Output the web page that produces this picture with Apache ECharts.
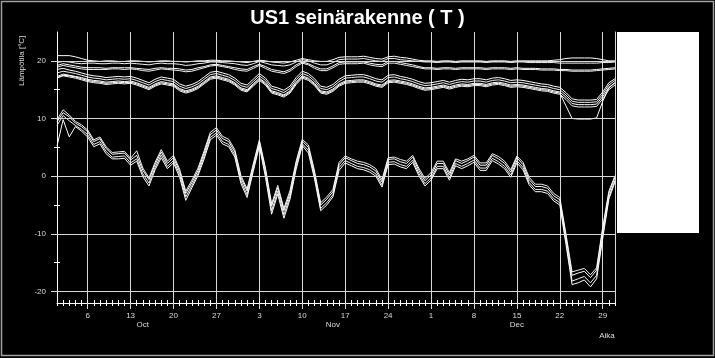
<!DOCTYPE html>
<html><head><meta charset="utf-8">
<script src="https://cdn.jsdelivr.net/npm/echarts@6/dist/echarts.min.js"></script>
<style>html,body{margin:0;padding:0;background:#000}#c{width:715px;height:358px}</style>
</head><body><div id="c"></div>
<script>
// ---- data ----
const monthLengths = [['Oct',31],['Nov',30],['Dec',31]];
const dates = [];
monthLengths.forEach(([m,n]) => { for (let d = 1; d <= n; d++) dates.push(m + ' ' + d); });
const weekTickDates = ['Oct 6','Oct 13','Oct 20','Oct 27','Nov 3','Nov 10','Nov 17','Nov 24','Dec 1','Dec 8','Dec 15','Dec 22','Dec 29'];
const monthLabelDates = ['Oct 15','Nov 15','Dec 15'];
const yMajor = [-20,-10,0,10,20];
const yMinor = [-15,-5,5,15];
const title = 'US1 seinärakenne ( T )';
const yName = 'Lämpötila [°C]';
const xName = 'Aika';

const T1 = [20.9,20.9,20.9,20.7,20.4,20.1,20.0,19.9,20.0,20.0,
 19.9,19.9,20.0,20.0,19.9,19.8,19.9,20.0,20.0,19.9,
 19.9,19.8,19.9,20.0,20.0,20.1,20.1,20.0,20.0,19.9,
 19.8,19.7,19.9,20.1,20.0,19.8,19.7,19.6,19.8,20.1,
 20.4,20.2,20.0,19.9,19.9,20.2,20.6,20.7,20.7,20.7,
 20.8,20.6,20.4,20.3,20.7,20.8,20.6,20.5,20.3,20.1,
 20.0,20.0,19.9,20.0,20.0,19.9,20.0,20.0,20.0,20.0,
 19.9,20.0,20.0,20.0,19.9,20.0,20.0,20.0,20.0,20.0,
 20.0,20.1,20.2,20.4,20.5,20.5,20.5,20.5,20.4,20.2,
 20.0,20.0];
const T2 = [19.7,19.9,19.8,19.6,19.5,19.6,19.6,19.5,19.5,19.6,
 19.6,19.5,19.6,19.5,19.4,19.3,19.5,19.6,19.5,19.5,
 19.4,19.2,19.3,19.5,19.6,19.8,19.8,19.7,19.6,19.5,
 19.3,19.2,19.5,19.9,19.6,19.3,19.2,19.1,19.3,19.8,
 20.2,20.0,19.6,19.3,19.3,19.7,20.2,20.3,20.3,20.3,
 20.4,20.2,20.0,19.9,20.4,20.4,20.2,20.1,20.0,19.9,
 19.8,19.8,19.7,19.8,19.8,19.7,19.8,19.8,19.8,19.8,
 19.7,19.8,19.8,19.8,19.7,19.8,19.8,19.7,19.7,19.7,
 19.7,19.7,19.6,19.6,19.6,19.6,19.6,19.6,19.6,19.7,
 19.7,19.8];
const T3 = [19.2,19.5,19.3,19.1,18.9,18.8,18.8,18.8,18.7,18.8,
 18.8,18.8,18.8,18.7,18.6,18.5,18.7,18.8,18.7,18.7,
 18.6,18.4,18.5,18.8,19.0,19.3,19.4,19.2,19.0,18.8,
 18.6,18.5,19.0,19.4,19.0,18.5,18.3,18.1,18.5,19.3,
 19.8,19.5,19.0,18.6,18.6,19.1,19.7,19.8,19.8,19.8,
 19.8,19.6,19.4,19.3,19.9,19.9,19.7,19.5,19.3,19.0,
 18.8,18.8,18.7,18.8,18.8,18.7,18.8,18.8,18.8,18.8,
 18.7,18.8,18.8,18.8,18.7,18.8,18.7,18.7,18.7,18.6,
 18.6,18.6,18.5,18.5,18.4,18.4,18.4,18.4,18.5,18.6,
 18.7,18.8];
const T4 = [18.9,19.2,19.0,18.8,18.6,18.5,18.5,18.5,18.5,18.6,
 18.6,18.5,18.6,18.5,18.3,18.2,18.4,18.6,18.5,18.4,
 18.3,18.1,18.2,18.5,18.8,19.1,19.2,19.0,18.8,18.5,
 18.3,18.2,18.7,19.2,18.7,18.2,18.0,17.8,18.2,19.0,
 19.6,19.3,18.7,18.3,18.3,18.8,19.4,19.5,19.5,19.5,
 19.6,19.3,19.1,19.0,19.6,19.6,19.4,19.2,19.0,18.8,
 18.6,18.6,18.5,18.6,18.6,18.5,18.6,18.6,18.6,18.6,
 18.5,18.6,18.6,18.6,18.5,18.6,18.5,18.5,18.5,18.4,
 18.4,18.4,18.3,18.3,18.2,18.2,18.2,18.2,18.3,18.4,
 18.5,18.6];
const M1 = [18.5,18.7,18.4,18.2,17.9,17.6,17.4,17.3,17.1,17.2,
 17.3,17.2,17.3,17.0,16.6,16.2,16.8,17.2,17.0,16.8,
 16.0,15.6,15.9,16.4,17.2,18.0,18.2,17.9,17.6,17.0,
 16.1,15.8,16.8,17.8,17.0,15.6,15.3,14.9,15.6,17.1,
 18.2,17.8,16.9,15.6,15.4,15.9,16.8,17.4,17.5,17.6,
 17.6,17.3,16.9,16.7,17.5,17.6,17.3,17.1,16.8,16.4,
 16.1,16.2,16.4,16.6,16.3,16.6,16.8,16.7,16.9,16.9,
 16.7,17.0,17.1,16.9,16.6,16.7,16.6,16.4,16.2,16.0,
 15.9,15.6,15.4,14.5,13.4,13.2,13.2,13.2,13.3,14.6,
 16.2,16.9];
const M2 = [17.9,18.2,18.0,17.8,17.5,17.2,17.0,16.9,16.7,16.8,
 16.9,16.8,16.9,16.6,16.2,15.8,16.4,16.8,16.6,16.4,
 15.6,15.2,15.5,16.0,16.8,17.6,17.8,17.5,17.2,16.6,
 15.7,15.4,16.4,17.4,16.6,15.2,14.9,14.5,15.2,16.7,
 17.8,17.4,16.5,15.2,15.0,15.5,16.4,17.0,17.1,17.2,
 17.2,16.9,16.5,16.3,17.1,17.2,16.9,16.7,16.4,16.0,
 15.7,15.8,16.0,16.2,15.9,16.2,16.4,16.3,16.5,16.5,
 16.3,16.6,16.7,16.5,16.2,16.3,16.2,16.0,15.8,15.6,
 15.5,15.2,15.0,14.1,13.0,12.8,12.8,12.8,12.9,14.2,
 15.8,16.6];
const M3 = [17.3,17.7,17.5,17.3,17.1,16.8,16.6,16.5,16.3,16.4,
 16.5,16.4,16.5,16.2,15.8,15.4,16.0,16.4,16.2,16.0,
 15.2,14.8,15.1,15.6,16.4,17.2,17.4,17.1,16.8,16.2,
 15.3,15.0,16.0,17.0,16.2,14.8,14.5,14.1,14.8,16.3,
 17.4,17.0,16.1,14.8,14.6,15.1,16.0,16.5,16.6,16.7,
 16.7,16.4,16.0,15.8,16.6,16.7,16.5,16.3,16.0,15.6,
 15.3,15.4,15.6,15.8,15.5,15.8,16.0,15.9,16.1,16.1,
 15.9,16.2,16.3,16.1,15.8,15.9,15.8,15.6,15.4,15.2,
 15.1,14.8,14.6,13.7,12.6,12.4,12.4,12.4,12.5,13.8,
 15.4,16.2];
const M4 = [17.0,17.4,17.2,17.0,16.7,16.4,16.2,16.1,15.9,16.0,
 16.1,16.0,16.1,15.8,15.4,15.0,15.6,16.0,15.8,15.6,
 14.8,14.4,14.7,15.2,16.0,16.8,17.0,16.7,16.4,15.8,
 14.9,14.6,15.6,16.6,15.8,14.4,14.1,13.7,14.4,15.9,
 17.0,16.6,15.7,14.4,14.2,14.7,15.6,16.1,16.2,16.3,
 16.3,16.0,15.6,15.4,16.2,16.3,16.1,15.9,15.6,15.2,
 14.9,15.0,15.2,15.4,15.1,15.4,15.6,15.5,15.7,15.7,
 15.5,15.8,15.9,15.7,15.4,15.5,15.4,15.2,15.0,14.8,
 14.7,14.4,14.2,13.3,12.2,12.0,12.0,12.0,12.1,13.4,
 15.0,15.8];
const M5 = [17.1,17.5,17.4,17.2,16.9,16.6,16.4,16.3,16.1,16.2,
 16.3,16.2,16.3,16.0,15.6,15.2,15.8,16.2,16.0,15.8,
 15.0,14.6,14.9,15.4,16.2,17.0,17.2,16.9,16.6,16.0,
 15.1,14.8,15.8,16.8,16.0,14.6,14.3,13.9,14.6,16.1,
 17.2,16.8,15.9,14.6,14.4,14.9,15.8,16.3,16.4,16.5,
 16.5,16.2,15.8,15.6,16.4,16.5,16.3,16.1,15.8,15.4,
 15.1,15.2,15.4,15.6,15.3,15.6,15.8,15.7,15.9,15.9,
 15.7,16.0,16.1,15.9,15.6,15.7,15.6,15.4,15.2,15.0,
 14.9,14.6,14.4,12.2,10.0,9.9,9.9,9.9,10.1,13.0,
 15.3,16.2];
const B1 = [9.8,11.5,10.6,9.5,8.9,8.0,6.3,6.8,5.1,4.1,
 4.2,4.3,3.1,4.4,1.4,-0.3,2.4,4.6,2.6,3.6,
 1.2,-2.6,-0.7,1.4,4.4,7.6,8.4,6.9,6.4,4.6,
 0.1,-2.2,2.1,6.3,1.4,-4.8,-1.6,-5.6,-2.5,2.6,
 6.4,5.4,0.9,-4.6,-3.6,-2.3,2.4,3.5,3.0,2.6,
 2.4,2.0,1.3,-0.6,3.2,3.3,2.9,2.6,3.6,1.4,
 -0.4,0.6,2.6,2.6,0.6,3.0,2.6,3.0,3.6,2.3,
 2.3,3.9,3.4,2.6,1.1,3.5,2.4,-0.2,-1.4,-1.4,
 -1.7,-3.0,-3.7,-10.0,-16.6,-16.3,-16.0,-17.1,-15.9,-8.8,
 -2.6,0.1];
const B2 = [9.4,11.0,10.3,9.2,8.6,7.7,6.0,6.5,4.8,3.8,
 3.9,4.0,2.8,3.6,1.0,-0.6,2.0,4.2,2.2,3.2,
 0.8,-3.0,-1.1,1.0,4.0,7.2,8.0,6.5,6.0,4.2,
 -0.3,-2.6,1.7,6.0,1.0,-5.2,-2.0,-6.0,-3.0,2.2,
 6.1,5.0,0.5,-5.0,-4.0,-2.7,2.0,3.2,2.7,2.2,
 2.0,1.6,0.9,-1.0,2.9,3.0,2.5,2.2,3.3,1.0,
 -0.8,0.2,2.2,2.2,0.2,2.7,2.2,2.7,3.3,1.9,
 1.9,3.6,3.0,2.2,0.7,3.2,2.0,-0.6,-1.8,-1.8,
 -2.1,-3.4,-4.1,-10.5,-17.2,-16.8,-16.5,-17.6,-16.3,-9.3,
 -3.0,-0.2];
const B3 = [8.8,10.5,9.6,8.8,8.1,7.2,5.5,6.0,4.3,3.3,
 3.4,3.5,2.3,3.0,0.4,-1.2,1.5,3.7,1.7,2.7,
 0.3,-3.6,-1.6,0.5,3.5,6.7,7.5,6.0,5.5,3.7,
 -0.8,-3.2,1.2,5.5,0.4,-6.0,-2.6,-6.7,-3.5,1.7,
 5.6,4.5,0.0,-5.6,-4.6,-3.2,1.5,2.7,2.2,1.7,
 1.5,1.1,0.4,-1.5,2.4,2.5,2.0,1.7,2.8,0.5,
 -1.3,-0.3,1.7,1.7,-0.3,2.2,1.7,2.2,2.8,1.4,
 1.4,3.1,2.5,1.7,0.2,2.7,1.5,-1.1,-2.3,-2.3,
 -2.6,-3.9,-4.6,-11.3,-18.2,-17.8,-17.4,-18.5,-17.2,-10.2,
 -3.6,-0.7];
const B4 = [5.2,9.8,6.8,8.6,7.8,6.8,5.1,5.6,3.9,3.0,
 3.0,3.1,1.9,2.6,-0.1,-1.7,1.1,3.2,1.3,2.3,
 -0.2,-4.2,-2.0,0.1,3.0,6.3,7.1,5.6,5.1,3.3,
 -1.3,-3.7,0.8,5.2,-0.2,-6.6,-3.1,-7.3,-4.0,1.2,
 5.3,4.0,-0.5,-6.0,-5.0,-3.6,1.0,2.3,1.8,1.3,
 1.1,0.7,0.0,-1.9,2.0,2.1,1.6,1.3,2.4,0.1,
 -1.7,-0.7,1.3,1.3,-0.7,1.8,1.3,1.8,2.4,1.0,
 1.0,2.7,2.1,1.3,-0.2,2.3,1.1,-1.5,-2.7,-2.7,
 -3.0,-4.3,-5.0,-11.8,-18.8,-18.5,-18.0,-19.2,-17.8,-10.8,
 -4.0,-1.0];

const seriesData = [T1,T2,T3,T4,M1,M2,M3,M4,M5,B1,B2,B3,B4];

// ---- chart ----
const FONT = 'Liberation Sans, Arial, sans-serif';
const LBL = '#dcdcdc';
const GRID = '#d8d8d8';
const isWeekIdx = (i) => weekTickDates.indexOf(dates[i]) >= 0;

const chart = echarts.init(document.getElementById('c'), null, {renderer: 'canvas'});
const yBase = {type: 'value', min: -22, max: 25, position: 'left', splitLine: {show: false}};
const xBase = {type: 'category', data: dates, boundaryGap: false, position: 'bottom'};
chart.setOption({
  backgroundColor: '#000',
  animation: false,
  title: {text: title, left: 'center', top: 3,
    textStyle: {color: '#fff', fontSize: 20, fontWeight: 'bold', fontFamily: FONT}},
  grid: {left: 57, right: 100, top: 32, bottom: 55, containLabel: false},
  xAxis: [
    Object.assign({}, xBase, {
      axisLine: {show: true, onZero: false, lineStyle: {color: '#fff', width: 1}},
      axisTick: {show: true, interval: 0, length: 3, lineStyle: {color: '#fff'}},
      axisLabel: {show: true, interval: (i, v) => weekTickDates.indexOf(v) >= 0,
        formatter: v => v.split(' ')[1], margin: 9, color: LBL, fontSize: 8, fontFamily: FONT},
      splitLine: {show: true, interval: (i) => isWeekIdx(i), lineStyle: {color: GRID, width: 1}}}),
    Object.assign({}, xBase, {
      axisLine: {show: false, onZero: false},
      axisTick: {show: true, inside: true, interval: 0, length: 3, lineStyle: {color: '#fff'}},
      axisLabel: {show: false}, splitLine: {show: false}}),
    Object.assign({}, xBase, {
      axisLine: {show: false, onZero: false},
      axisTick: {show: true, interval: (i) => isWeekIdx(i), length: 6, lineStyle: {color: GRID}},
      axisLabel: {show: true, interval: (i, v) => monthLabelDates.indexOf(v) >= 0,
        formatter: v => v.split(' ')[0], margin: 18, color: LBL, fontSize: 8, fontFamily: FONT},
      splitLine: {show: false}})
  ],
  yAxis: [
    Object.assign({}, yBase, {
      axisLine: {show: true, onZero: false, lineStyle: {color: '#fff', width: 1}},
      axisTick: {show: true, customValues: yMajor, length: 6, lineStyle: {color: GRID}},
      axisLabel: {show: true, customValues: yMajor, margin: 11, color: LBL, fontSize: 8, fontFamily: FONT}}),
    Object.assign({}, yBase, {
      axisLine: {show: false, onZero: false},
      axisTick: {show: true, customValues: yMinor, inside: true, length: 3, lineStyle: {color: '#fff'}},
      axisLabel: {show: false}}),
    Object.assign({}, yBase, {
      axisLine: {show: false, onZero: false},
      axisTick: {show: true, customValues: yMinor, length: 3, lineStyle: {color: '#fff'}},
      axisLabel: {show: false}}),
    Object.assign({}, yBase, {position: 'right',
      axisLine: {show: true, onZero: false, lineStyle: {color: GRID, width: 1}},
      axisTick: {show: false}, axisLabel: {show: false}})
  ],
  series: seriesData.map((d, k) => ({
    type: 'line', data: d, xAxisIndex: 0, yAxisIndex: 0, symbol: 'none',
    lineStyle: {color: k % 2 ? '#f2f2f2' : '#ffffff', width: 1}, silent: true,
    markLine: k === 0 ? {symbol: ['none','none'], silent: true, label: {show: false},
      lineStyle: {color: GRID, width: 1, type: 'solid'},
      data: yMajor.map(v => ({yAxis: v}))} : undefined
  })),
  graphic: [
    {type: 'rect', shape: {x: 1.5, y: 1.5, width: 712, height: 354}, style: {fill: 'none', stroke: '#a0a0a0', lineWidth: 1.5}, silent: true},
    {type: 'rect', shape: {x: 617, y: 32, width: 82, height: 201}, style: {fill: '#ffffff'}, silent: true},
    {type: 'text', x: 22, y: 86, rotation: Math.PI / 2,
      style: {text: yName, fill: LBL, font: '8px ' + FONT, align: 'left', verticalAlign: 'middle'}},
    {type: 'text', x: 607, y: 336,
      style: {text: xName, fill: LBL, font: '8px ' + FONT, align: 'center', verticalAlign: 'middle'}}
  ]
});
</script>
</body></html>
